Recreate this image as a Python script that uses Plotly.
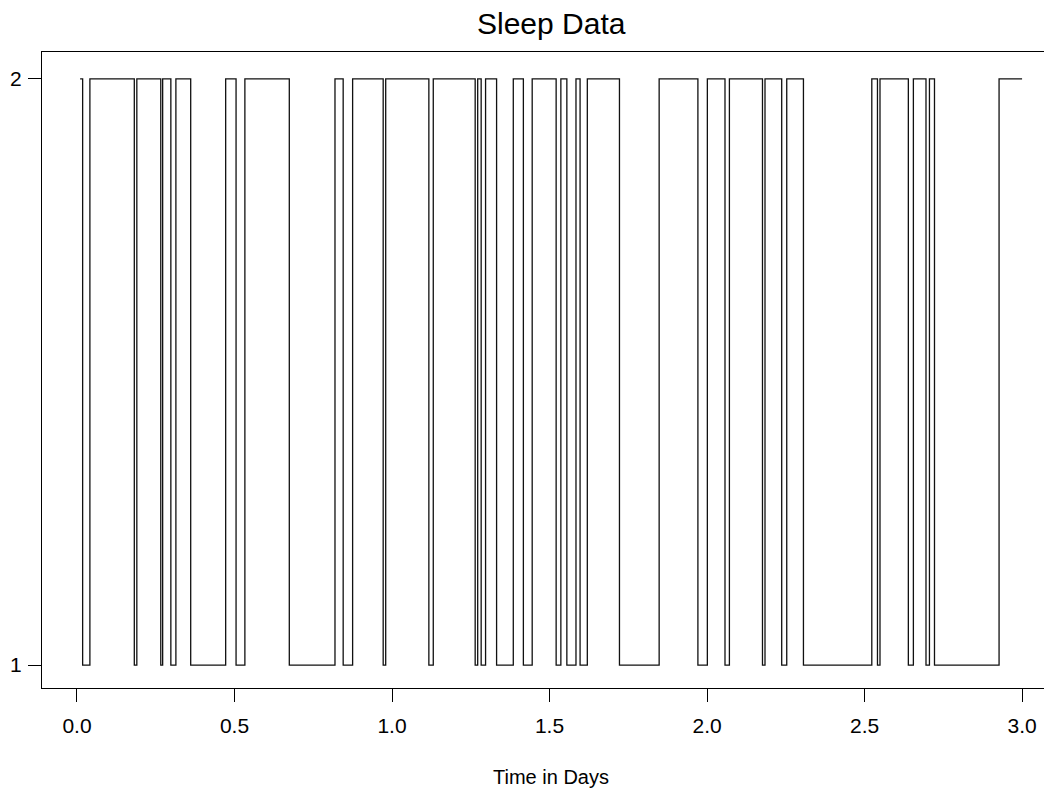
import plotly.graph_objects as go

# Sleep state record (state 1 / state 2) against time in days
times = [0.010, 0.018, 0.041, 0.182, 0.190, 0.266, 0.272, 0.298, 0.314, 0.361,
         0.472, 0.505, 0.533, 0.674, 0.819, 0.845, 0.875, 0.972, 0.980, 1.117,
         1.131, 1.264, 1.272, 1.283, 1.297, 1.332, 1.385, 1.417, 1.445, 1.521,
         1.536, 1.555, 1.584, 1.597, 1.620, 1.722, 1.848, 1.971, 2.001, 2.057,
         2.071, 2.176, 2.184, 2.237, 2.253, 2.306, 2.523, 2.541, 2.549, 2.639,
         2.655, 2.695, 2.706, 2.722, 2.927, 3.000]
states = [2, 1, 2, 1, 2, 1, 2, 1, 2, 1,
          2, 1, 2, 1, 2, 1, 2, 1, 2, 1,
          2, 1, 2, 1, 2, 1, 2, 1, 2, 1,
          2, 1, 2, 1, 2, 1, 2, 1, 2, 1,
          2, 1, 2, 1, 2, 1, 2, 1, 2, 1,
          2, 1, 2, 1, 2, 2]

x_ticks = [0.0, 0.5, 1.0, 1.5, 2.0, 2.5, 3.0]
x_tick_labels = ["0.0", "0.5", "1.0", "1.5", "2.0", "2.5", "3.0"]
y_ticks = [1, 2]
y_tick_labels = ["1", "2"]

FONT = "Liberation Sans, Arial, Helvetica, sans-serif"

# The page body has an 8px margin, so the figure is sized/positioned to compensate.
W, H = 1044, 783

fig = go.Figure()
fig.add_trace(go.Scatter(
    x=times, y=states, mode="lines", line_shape="hv",
    line=dict(color="#111111", width=1.3), showlegend=False,
    hoverinfo="x+y",
))

fig.update_layout(
    width=W, height=H,
    margin=dict(l=34, r=0, t=44, b=103),
    paper_bgcolor="white", plot_bgcolor="white",
    font=dict(family=FONT, color="black", size=21),
    showlegend=False,
)

fig.add_annotation(
    text="Sleep Data", xref="paper", yref="paper",
    x=(551 - 42) / 1010, y=1 + (52 - 23) / 636,
    xanchor="center", yanchor="middle", showarrow=False,
    font=dict(family=FONT, size=30, color="black"),
)

fig.update_xaxes(
    range=[-0.111, 3.095], tickvals=x_ticks, ticktext=x_tick_labels,
    showgrid=False, zeroline=False,
    showline=True, linecolor="black", linewidth=1.3, mirror=True,
    ticks="outside", ticklen=13, tickwidth=1.2, tickcolor="black",
    ticklabelstandoff=6,
    tickfont=dict(family=FONT, size=21, color="black"),
)
fig.update_yaxes(
    range=[0.961, 2.046], tickvals=y_ticks, ticktext=y_tick_labels,
    showgrid=False, zeroline=False,
    showline=True, linecolor="black", linewidth=1.3, mirror=False,
    ticks="outside", ticklen=13, tickwidth=1.2, tickcolor="black",
    ticklabelstandoff=2,
    tickfont=dict(family=FONT, size=21, color="black"),
)

fig.add_annotation(
    text="Time in Days", xref="paper", yref="paper",
    x=(551 - 42) / 1010, y=(688 - 777) / 636,
    xanchor="center", yanchor="middle", showarrow=False,
    font=dict(family=FONT, size=20, color="black"),
)

fig.write_html("out.html")
